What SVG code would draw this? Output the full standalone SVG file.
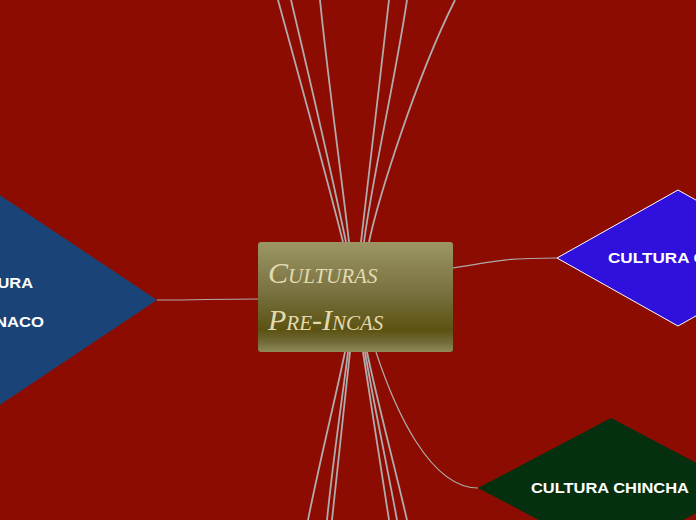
<svg xmlns="http://www.w3.org/2000/svg" width="696" height="520" viewBox="0 0 696 520">
<defs>
<linearGradient id="boxg" x1="0" y1="0" x2="0" y2="1">
<stop offset="0" stop-color="#9b9664"/>
<stop offset="0.45" stop-color="#7a7240"/>
<stop offset="0.8" stop-color="#5b5212"/>
<stop offset="0.9" stop-color="#6f6835"/>
<stop offset="1" stop-color="#8e8a58"/>
</linearGradient>
<style>
.c{fill:none;stroke:#b0aaaa;stroke-width:1.8}
.c2{fill:none;stroke:#b0aaaa;stroke-width:1.2}
.t{font-family:"Liberation Sans",Arial,sans-serif;font-weight:bold;font-size:15px;fill:#ffffff}
.m{font-family:"Liberation Serif","Times New Roman",serif;font-style:italic;font-variant:small-caps;font-size:30px;fill:#e2dab0}
</style>
</defs>
<rect width="696" height="520" fill="#8c0c02"/>
<g id="connectors">
<path class="c" d="M343,242 C330,190 300,80 278,0"/>
<path class="c" d="M346,242 C335,190 310,80 291,0"/>
<path class="c" d="M349,242 C342,180 328,80 320,0"/>
<path class="c" d="M361,242 C368,180 380,80 389,0"/>
<path class="c" d="M364,242 C372,180 395,80 407,0"/>
<path class="c" d="M369,242 C378,200 415,80 455,0"/>
<path class="c" d="M345,352 C335,400 320,460 308,520"/>
<path class="c" d="M348,352 C342,400 333,460 327,520"/>
<path class="c" d="M350,352 C345,400 338,460 332,520"/>
<path class="c" d="M363,352 C370,400 380,460 389,520"/>
<path class="c" d="M365,352 C373,400 386,460 397,520"/>
<path class="c" d="M367,352 C377,400 393,460 407,520"/>
<path class="c2" d="M376,352 C395,410 430,488 478,488"/>
<path class="c2" d="M453,268 C500,260 510,258 557,258"/>
<path class="c2" d="M157,300 C200,300 215,299 258,299"/>
</g>
<g id="tiahuanaco">
<polygon points="157,300 -8,410 -173,300 -8,190" fill="#1a4478"/>
<text class="t" x="-45" y="288" textLength="78" lengthAdjust="spacingAndGlyphs">CULTURA</text>
<text class="t" x="-68" y="327" textLength="112" lengthAdjust="spacingAndGlyphs">TIAHUANACO</text>
</g>
<g id="chavin">
<polygon points="557,258 678,190 799,258 678,326" fill="#3010dd" stroke="#ffffff" stroke-width="1"/>
<text class="t" x="608" y="263" textLength="150" lengthAdjust="spacingAndGlyphs">CULTURA CHAVÍN</text>
</g>
<g id="chincha">
<polygon points="478,488 611,418 744,488 611,558" fill="#053010"/>
<text class="t" x="531" y="493" textLength="158" lengthAdjust="spacingAndGlyphs">CULTURA CHINCHA</text>
</g>
<g id="central">
<rect x="258" y="242" width="195" height="110" rx="3" fill="url(#boxg)"/>
<text class="m" x="268" y="283">Culturas</text>
<text class="m" x="268" y="330">Pre-Incas</text>
</g>
</svg>
